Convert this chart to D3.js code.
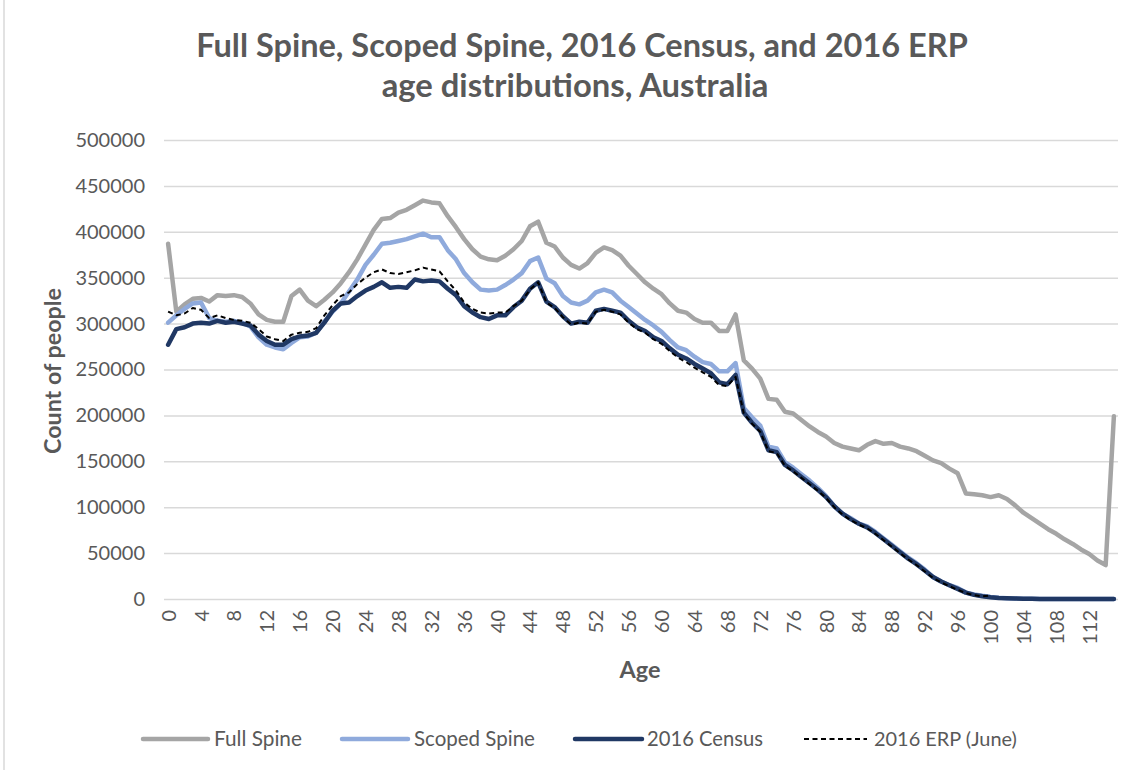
<!DOCTYPE html>
<html>
<head>
<meta charset="utf-8">
<script src="https://cdn.jsdelivr.net/npm/d3@7"></script>
<style>
  html, body { margin: 0; padding: 0; background: #fff; }
  svg { display: block; }
  text { font-family: Lato, "Open Sans", sans-serif; fill: #595959; }
</style>
</head>
<body>
<svg id="chart" width="1130" height="770"></svg>
<script>
// ---------- DATA ----------
const ages = d3.range(0, 116);
const xTickAges = ages.filter(a => a % 4 === 0);
const yTicks = [0, 50000, 100000, 150000, 200000, 250000, 300000, 350000, 400000, 450000, 500000];

const fullSpine = [
  387000, 313000, 321000, 327000, 328000, 324000, 331000, 330000, 331000, 329000,
  322000, 310000, 304000, 302000, 302000, 330000, 337000, 325000, 319000, 326000,
  334000, 344000, 356000, 370000, 386000, 402000, 414000, 415000, 421000, 424000,
  429000, 434000, 432000, 431000, 417000, 405000, 392000, 381000, 373000, 370000,
  369000, 374000, 381000, 390000, 406000, 411000, 388000, 384000, 372000, 364000,
  360000, 366000, 377000, 383000, 380000, 374000, 363000, 354000, 345000, 338000,
  332000, 322000, 314000, 312000, 305000, 301000, 301000, 292000, 292000, 310000,
  260000, 251000, 240000, 218000, 217000, 204000, 202000, 195000, 188000, 182000,
  177000, 170000, 166000, 164000, 162000, 168000, 172000, 169000, 170000, 166000,
  164000, 161000, 156000, 151000, 148000, 142000, 137000, 115000, 114000, 113000,
  111000, 113000, 109000, 102000, 94000, 88000, 82000, 76000, 71000, 65000,
  60000, 54000, 49000, 42000, 37000, 199000
];

const scopedSpine = [
  301000, 309000, 316000, 322000, 323000, 306000, 303000, 302000, 303000, 301000,
  297000, 285000, 277000, 274000, 272000, 279000, 285000, 286000, 290000, 302000,
  313000, 322000, 335000, 348000, 364000, 375000, 387000, 388000, 390000, 392000,
  395000, 398000, 394000, 394000, 380000, 370000, 355000, 345000, 337000, 336000,
  337000, 342000, 348000, 355000, 368000, 372000, 349000, 344000, 330000, 323000,
  321000, 325000, 334000, 337000, 334000, 325000, 318000, 311000, 304000, 298000,
  291000, 282000, 274000, 271000, 264000, 258000, 256000, 248000, 248000, 257000,
  208000, 198000, 189000, 166000, 164000, 149000, 143000, 136000, 129000, 121000,
  112000, 101000, 93000, 88000, 82000, 79000, 73000, 66000, 59000, 52000,
  45000, 39000, 32000, 24000, 19000, 15000, 12000, 7000, 5000, 3500,
  2300, 1500, 900, 500, 300, 200, 100, 80, 60, 40,
  30, 20, 10, 10, 5, 5
];

const census2016 = [
  277000, 294000, 296000, 300000, 301000, 300000, 303000, 301000, 302000, 300000,
  298000, 288000, 281000, 277000, 277000, 283000, 286000, 287000, 290000, 301000,
  314000, 322000, 323000, 330000, 336000, 340000, 345000, 339000, 340000, 339000,
  348000, 346000, 347000, 346000, 338000, 331000, 319000, 312000, 307000, 305000,
  309000, 309000, 318000, 325000, 338000, 345000, 324000, 318000, 308000, 300000,
  302000, 301000, 314000, 316000, 314000, 312000, 303000, 296000, 292000, 285000,
  281000, 273000, 266000, 262000, 256000, 251000, 246000, 236000, 234000, 244000,
  203000, 192000, 183000, 162000, 160000, 146000, 140000, 133000, 126000, 119000,
  111000, 101000, 93000, 87000, 82000, 78000, 72000, 65000, 58000, 51000,
  44000, 38000, 31000, 24000, 19000, 15000, 11000, 7000, 4500, 3000,
  2000, 1200, 800, 500, 300, 200, 100, 80, 60, 40,
  30, 20, 10, 10, 5, 5
];

// ERP ends at "100 and over"
const erp2016 = [
  313000, 309000, 311000, 317000, 315000, 306000, 309000, 306000, 304000, 303000,
  301000, 294000, 286000, 283000, 281000, 288000, 290000, 291000, 295000, 309000,
  320000, 330000, 334000, 343000, 350000, 356000, 359000, 355000, 354000, 356000,
  358000, 361000, 359000, 357000, 346000, 336000, 323000, 316000, 312000, 311000,
  312000, 312000, 319000, 325000, 337000, 345000, 323000, 317000, 307000, 299000,
  301000, 300000, 313000, 315000, 313000, 310000, 301000, 294000, 290000, 283000,
  278000, 270000, 263000, 258000, 252000, 247000, 242000, 233000, 232000, 242000,
  202000, 191000, 182000, 161000, 159000, 145000, 139000, 132000, 125000, 118000,
  110000, 100000, 92000, 86000, 81000, 77000, 71000, 64000, 57000, 50000,
  43000, 37000, 30000, 23000, 18000, 14000, 10000, 6500, 4200, 2800,
  4000
];

const seriesNames = ["Full Spine", "Scoped Spine", "2016 Census", "2016 ERP (June)"];
const seriesValues = [fullSpine, scopedSpine, census2016, erp2016];
const seriesColors = ["#A5A5A5", "#8FAADC", "#203864", "#000000"];

// ---------- LAYOUT ----------
const svg = d3.select("#chart");
const plot = { left: 164, right: 1118, top: 140, bottom: 599 };

// border on left
svg.append("line").attr("x1", 4).attr("x2", 4).attr("y1", 0).attr("y2", 770)
  .attr("stroke", "#d9d9d9").attr("stroke-width", 1.5);

const x = d3.scalePoint().domain(ages).range([plot.left, plot.right]).padding(0.5);
const y = d3.scaleLinear().domain([0, 500000]).range([plot.bottom, plot.top]);

// gridlines + y labels
const yAxis = svg.append("g").attr("transform", `translate(${plot.left},0)`)
  .call(d3.axisLeft(y).tickValues(yTicks).tickSize(-(plot.right - plot.left)).tickPadding(19).tickFormat(d3.format("d")));
yAxis.select(".domain").remove();
yAxis.selectAll(".tick line").attr("stroke", "#d9d9d9").attr("stroke-width", 1.5);
yAxis.selectAll(".tick text").attr("font-size", 20).style("font-family", "Lato, sans-serif").attr("fill", "#595959");

// x axis labels
const xAxis = svg.append("g").attr("transform", `translate(0,${plot.bottom})`)
  .call(d3.axisBottom(x).tickValues(xTickAges).tickSize(0));
xAxis.select(".domain").remove();
xAxis.selectAll(".tick text")
  .attr("font-size", 20).style("font-family", "Lato, sans-serif").attr("fill", "#595959")
  .attr("transform", "rotate(-90)")
  .attr("text-anchor", "end")
  .attr("x", -11).attr("y", 0).attr("dy", "0.35em");

// lines
const line = d3.line().x((d, i) => x(ages[i])).y(d => y(d));
const widths = [4.5, 4.5, 4.5, 2];
seriesValues.forEach((vals, k) => {
  svg.append("path").datum(vals)
    .attr("fill", "none")
    .attr("stroke", seriesColors[k])
    .attr("stroke-width", widths[k])
    .attr("stroke-linejoin", "round")
    .attr("stroke-linecap", k === 3 ? "butt" : "round")
    .attr("stroke-dasharray", k === 3 ? "5,3.5" : null)
    .attr("d", line);
});

// helper: fit text width
function fit(sel, target) {
  const w = sel.node().getComputedTextLength();
  const fs = parseFloat(sel.attr("font-size"));
  sel.attr("font-size", fs * target / w);
}

// title
const t1 = svg.append("text").attr("x", 582).attr("y", 57).attr("text-anchor", "middle")
  .attr("font-size", 26).attr("font-weight", "bold")
  .text("Full Spine, Scoped Spine, 2016 Census, and 2016 ERP");
fit(t1, 772);
const t2 = svg.append("text").attr("x", 575).attr("y", 97).attr("text-anchor", "middle")
  .attr("font-size", 26).attr("font-weight", "bold")
  .text("age distributions, Australia");
fit(t2, 387);

// axis titles
const yt = svg.append("text").attr("transform", "translate(61,371) rotate(-90)")
  .attr("text-anchor", "middle").attr("font-size", 20).attr("font-weight", "bold")
  .text("Count of people");
fit(yt, 166);
const xt = svg.append("text").attr("x", 640).attr("y", 678).attr("text-anchor", "middle")
  .attr("font-size", 20).attr("font-weight", "bold").text("Age");
fit(xt, 41);

// legend
const legendItems = [
  { x0: 143, x1: 208, tx: 214, tw: 88 },
  { x0: 342, x1: 408, tx: 414, tw: 121 },
  { x0: 575, x1: 642, tx: 647, tw: 116 },
  { x0: 804, x1: 867, tx: 874, tw: 143 }
];
legendItems.forEach((it, k) => {
  svg.append("line").attr("x1", it.x0).attr("x2", it.x1).attr("y1", 739).attr("y2", 739)
    .attr("stroke", seriesColors[k]).attr("stroke-width", widths[k])
    .attr("stroke-linecap", k === 3 ? "butt" : "round")
    .attr("stroke-dasharray", k === 3 ? "5,3.5" : null);
  const tt = svg.append("text").attr("x", it.tx).attr("y", 746).attr("font-size", 20)
    .text(seriesNames[k]);
  fit(tt, it.tw);
});
</script>
</body>
</html>
